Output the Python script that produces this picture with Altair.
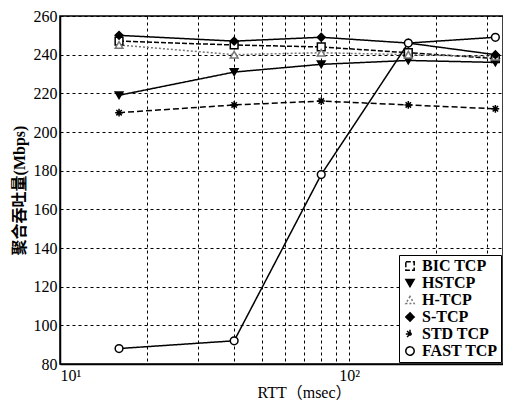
import altair as alt
import pandas as pd

rtt = [16, 40, 80, 160, 320]
series = ["BIC TCP", "HSTCP", "H-TCP", "S-TCP", "STD TCP", "FAST TCP"]
bic = [247, 245, 244, 241, 238]
hstcp = [219, 231, 235, 237, 236]
htcp = [245, 240, 241, 240, 239]
stcp = [250, 247, 249, 246, 240]
std = [210, 214, 216, 214, 212]
fast = [88, 92, 178, 246, 249]

x_ticks = [10, 20, 30, 40, 50, 60, 70, 80, 90, 100, 200, 300]
y_ticks = [80, 100, 120, 140, 160, 180, 200, 220, 240, 260]

rows = []
for name, vals in zip(series, [bic, hstcp, htcp, stcp, std, fast]):
    for xv, v in zip(rtt, vals):
        rows.append({"rtt": xv, "tput": v, "proto": name})
df = pd.DataFrame(rows)

asterisk = "M-1,0L1,0M0,-1L0,1M-0.7,-0.7L0.7,0.7M-0.7,0.7L0.7,-0.7"
serif = "Liberation Serif, Times New Roman, DejaVu Serif, serif"

xenc = alt.X(
    "rtt:Q",
    scale=alt.Scale(type="log", domain=[10, 340], nice=False),
    axis=alt.Axis(
        values=x_ticks,
        labelExpr="datum.value == 10 ? '10¹' : (datum.value == 100 ? '10²' : '')",
        title="RTT（msec）",
        titleX=244,
        titleAnchor="middle",
    ),
)
yenc = alt.Y(
    "tput:Q",
    scale=alt.Scale(domain=[80, 260], nice=False, zero=False),
    axis=alt.Axis(values=y_ticks, title="聚合吞吐量(Mbps)"),
)
color = alt.Color(
    "proto:N",
    scale=alt.Scale(domain=series, range=["black", "black", "#777777", "black", "black", "black"]),
    legend=alt.Legend(title=None),
)

lines = alt.Chart(df).mark_line(strokeWidth=1.5).encode(
    x=xenc,
    y=yenc,
    color=color,
    strokeDash=alt.StrokeDash(
        "proto:N",
        scale=alt.Scale(domain=series, range=[[5, 2], [1, 0], [2, 2], [1, 0], [6, 3], [1, 0]]),
        legend=alt.Legend(title=None),
    ),
)

points = alt.Chart(df).mark_point(size=60, strokeWidth=1.5, opacity=1).encode(
    x=xenc,
    y=yenc,
    color=color,
    shape=alt.Shape(
        "proto:N",
        scale=alt.Scale(domain=series, range=["square", "triangle-down", "triangle-up", "diamond", asterisk, "circle"]),
        legend=alt.Legend(title=None),
    ),
    fill=alt.Fill(
        "proto:N",
        scale=alt.Scale(domain=series, range=["white", "black", "white", "black", "black", "white"]),
        legend=alt.Legend(title=None),
    ),
)

chart = (
    alt.layer(lines, points)
    .properties(
        width=443,
        height=348,
        autosize="none",
        padding={"left": 52, "top": 8, "right": 0, "bottom": 42},
    )
    .configure_view(stroke="black", strokeWidth=1.5)
    .configure_axis(
        grid=True,
        gridColor="black",
        gridDash=[3, 3],
        gridWidth=1,
        gridOpacity=1,
        domainColor="black",
        domainWidth=1.5,
        ticks=False,
        labelFont=serif,
        labelFontSize=16,
        labelColor="black",
        titleFont="Liberation Serif, Noto Sans CJK SC",
        titleFontSize=16,
        titleFontWeight="bold",
        titleColor="black",
    )
    .configure_axisY(labelPadding=3, titlePadding=6)
    .configure_axisX(labelPadding=3, titlePadding=1, titleFontWeight="normal")
    .configure_legend(
        orient="none",
        legendX=339,
        legendY=239,
        strokeColor="black",
        fillColor="white",
        padding=3,
        labelFont=serif,
        labelFontSize=16,
        labelFontWeight="bold",
        labelColor="black",
        symbolStrokeWidth=1.5,
        symbolSize=70,
        rowPadding=1,
        labelLimit=200,
    )
)

chart.save("out.html", embed_options={"renderer": "svg", "actions": False})
